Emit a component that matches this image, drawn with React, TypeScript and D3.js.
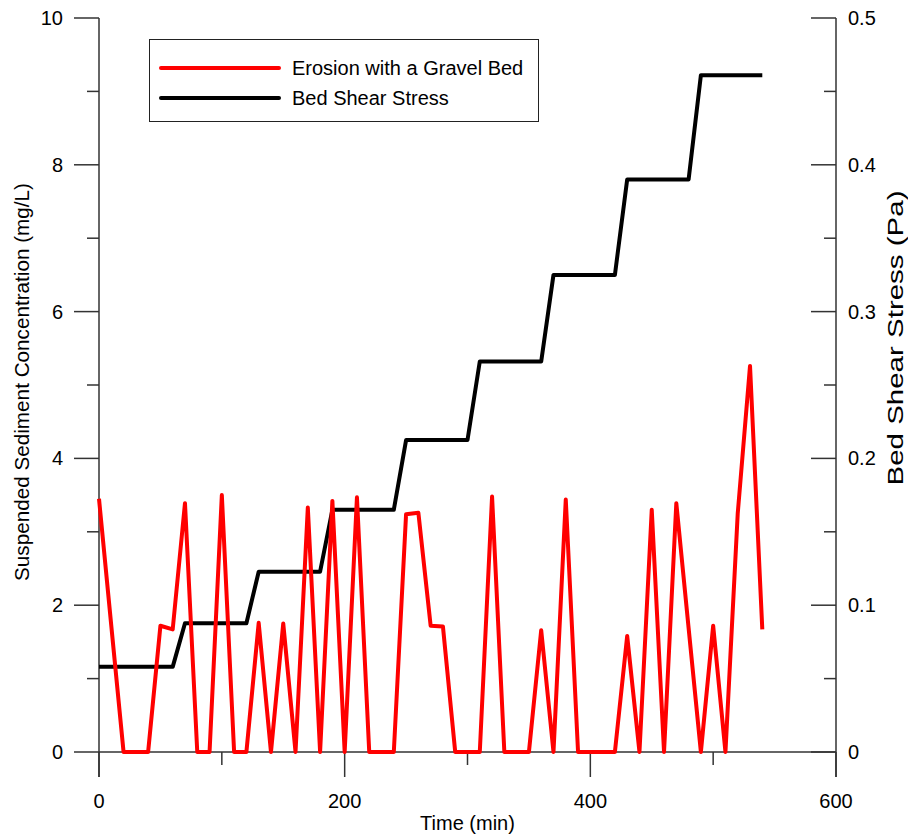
import React from "react";
import * as d3 from "d3";

const erosionTime = [0,10,20,30,40,50,60,70,80,90,100,110,120,130,140,150,160,170,180,190,200,210,220,230,240,250,260,270,280,290,300,310,320,330,340,350,360,370,380,390,400,410,420,430,440,450,460,470,480,490,500,510,520,530,540];
const erosionConc = [3.45,1.72,0,0,0,1.72,1.67,3.39,0,0,3.5,0,0,1.76,0,1.75,0,3.33,0,3.42,0,3.47,0,0,0,3.24,3.26,1.72,1.71,0,0,0,3.48,0,0,0,1.66,0,3.44,0,0,0,0,1.58,0,3.3,0,3.39,1.69,0,1.72,0,3.25,5.26,1.67];

const shearTime = [0,60,70,120,130,180,190,240,250,300,310,360,370,420,430,480,490,540];
const shearStress = [0.058,0.058,0.0877,0.0877,0.1228,0.1228,0.165,0.165,0.2125,0.2125,0.266,0.266,0.325,0.325,0.39,0.39,0.461,0.461];

const xMajor = [0,200,400,600];
const xMinor = [100,300,500];
const yLeftMajor = [0,2,4,6,8,10];
const yLeftMinor = [1,3,5,7,9];
const yRightMajor = [0,0.1,0.2,0.3,0.4,0.5];
const yRightMinor = [0.05,0.15,0.25,0.35,0.45];

const legendLabels = ["Erosion with a Gravel Bed", "Bed Shear Stress"];

export default function App() {
  const W = 908, H = 838;
  const left = 99, right = 836, top = 18, bottom = 752;
  const x = d3.scaleLinear().domain([0, 600]).range([left, right]);
  const yL = d3.scaleLinear().domain([0, 10]).range([bottom, top]);
  const yR = d3.scaleLinear().domain([0, 0.5]).range([bottom, top]);
  const font = "'Liberation Sans', Arial, sans-serif";
  const axisColor = "#333";

  const redLine = d3.line<number>().x((_, i) => x(erosionTime[i])).y((d) => yL(d))(erosionConc) || "";
  const blackLine = d3.line<number>().x((_, i) => x(shearTime[i])).y((d) => yR(d))(shearStress) || "";

  return (
    <svg width={W} height={H} style={{ position: "absolute", left: 0, top: 0, background: "#fff" }} fontFamily={font}>
      <rect x={0} y={0} width={W} height={H} fill="#fff" />
      {/* axes lines */}
      <line x1={left} x2={left} y1={top} y2={bottom + 25} stroke={axisColor} strokeWidth={1.5} />
      <line x1={right} x2={right} y1={top} y2={bottom + 25} stroke={axisColor} strokeWidth={1.5} />
      <line x1={left} x2={right} y1={bottom} y2={bottom} stroke={axisColor} strokeWidth={1.5} />
      {/* x ticks */}
      {xMajor.map((t) => (
        <g key={"xm" + t}>
          <line x1={x(t)} x2={x(t)} y1={bottom} y2={bottom + 25} stroke={axisColor} strokeWidth={1.5} />
          <text x={x(t)} y={808} fontSize={20} textAnchor="middle">{t}</text>
        </g>
      ))}
      {xMinor.map((t) => (
        <line key={"xn" + t} x1={x(t)} x2={x(t)} y1={bottom} y2={bottom + 13} stroke={axisColor} strokeWidth={1.5} />
      ))}
      {/* left ticks */}
      {yLeftMajor.map((v) => (
        <g key={"yl" + v}>
          <line x1={left - 25} x2={left} y1={yL(v)} y2={yL(v)} stroke={axisColor} strokeWidth={1.5} />
          <text x={63} y={yL(v) + 7} fontSize={20} textAnchor="end">{v}</text>
        </g>
      ))}
      {yLeftMinor.map((v) => (
        <line key={"yln" + v} x1={left - 12} x2={left} y1={yL(v)} y2={yL(v)} stroke={axisColor} strokeWidth={1.5} />
      ))}
      {/* right ticks */}
      {yRightMajor.map((v) => (
        <g key={"yr" + v}>
          <line x1={right - 25} x2={right} y1={yR(v)} y2={yR(v)} stroke={axisColor} strokeWidth={1.5} />
          <text x={848} y={yR(v) + 7} fontSize={20} textAnchor="start">{v === 0 ? "0" : d3.format(".1f")(v)}</text>
        </g>
      ))}
      {yRightMinor.map((v) => (
        <line key={"yrn" + v} x1={right - 12} x2={right} y1={yR(v)} y2={yR(v)} stroke={axisColor} strokeWidth={1.5} />
      ))}
      {/* titles */}
      <text x={(x(0) + x(600)) / 2} y={830} fontSize={20} textAnchor="middle">Time (min)</text>
      <text transform={`translate(29,382) rotate(-90)`} fontSize={20} textAnchor="middle" textLength={398} lengthAdjust="spacingAndGlyphs">Suspended Sediment Concentration (mg/L)</text>
      <text transform={`translate(903,338) rotate(-90)`} fontSize={22} textAnchor="middle" textLength={295} lengthAdjust="spacingAndGlyphs">Bed Shear Stress (Pa)</text>
      {/* data */}
      <path d={blackLine} fill="none" stroke="#000" strokeWidth={4} strokeLinejoin="round" />
      <path d={redLine} fill="none" stroke="#ff0000" strokeWidth={4} strokeLinejoin="round" />
      {/* legend */}
      <rect x={149.5} y={39.5} width={389} height={82} fill="#fff" stroke="#222" strokeWidth={1} />
      <line x1={161} x2={279} y1={68} y2={68} stroke="#ff0000" strokeWidth={4} strokeLinecap="round" />
      <line x1={161} x2={279} y1={98} y2={98} stroke="#000" strokeWidth={4} strokeLinecap="round" />
      <text x={292} y={75} fontSize={20}>{legendLabels[0]}</text>
      <text x={292} y={105} fontSize={20}>{legendLabels[1]}</text>
    </svg>
  );
}
